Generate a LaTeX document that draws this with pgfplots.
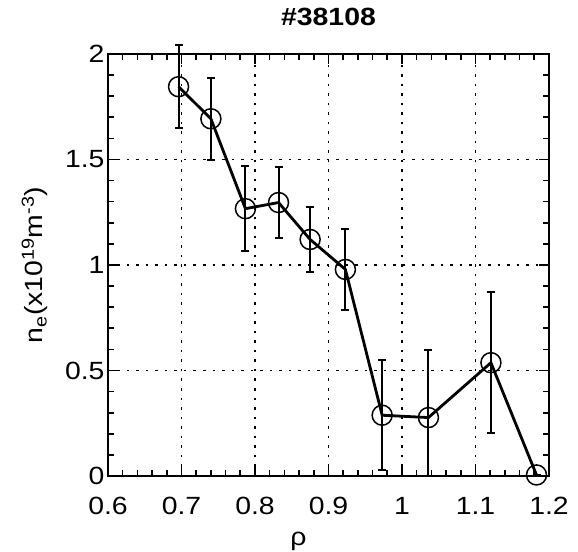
\documentclass[border=0pt]{standalone}
\usepackage{pgfplots}
\pgfplotsset{compat=1.18}
\usepackage{pgfplotstable}
\usepackage{fontspec}
\setmainfont{Liberation Sans}[FakeStretch=1.14]
\pgfplotstableread{
x y ep em
0.696 1.845 0.196 0.196
0.740 1.693 0.195 0.195
0.787 1.267 0.200 0.200
0.832 1.296 0.170 0.170
0.875 1.121 0.155 0.155
0.923 0.979 0.190 0.190
0.973 0.288 0.260 0.260
1.036 0.277 0.320 0.277
1.121 0.537 0.335 0.335
1.183 0.005 0.000 0.000
}\data
\begin{document}
\begin{tikzpicture}
\useasboundingbox (-108bp,-76bp) rectangle (470bp,476bp);
\begin{axis}[
  at={(0,0)}, anchor=south west,
  scale only axis, width=441bp, height=422bp,
  xmin=0.6, xmax=1.2, ymin=0, ymax=2,
  xtick={0.6,0.7,0.8,0.9,1,1.1,1.2},
  ytick={0,0.5,1,1.5,2},
  minor x tick num=4, minor y tick num=4,
  tick align=inside, tick pos=both,
  major tick length=10bp, minor tick length=6bp,
  every tick/.style={black, line width=1.6bp},
  axis line style={black, line width=2.2bp},
  grid=major,
  major grid style={black, line width=1.6bp, dash pattern=on 2.5bp off 7bp},
  /pgf/number format/assume math mode=true,
  ticklabel style={font=\fontsize{25}{28}\selectfont},
  xticklabel style={yshift=-18bp},
  label style={font=\fontsize{25}{28}\selectfont},
  xlabel={ρ},
  xlabel style={at={(axis description cs:0.5,0)}, anchor=center, yshift=-65bp, xshift=-30bp},
  ylabel={n\textsubscript{e}(x10\textsuperscript{19}m\textsuperscript{-3})},
  ylabel style={at={(axis description cs:-0.166,0.5)}, anchor=center},
  title={\textbf{\#38108}},
  title style={font=\fontsize{25}{28}\selectfont, at={(axis description cs:0.5,1)}, anchor=center, yshift=31bp},
  clip=false,
]
\addplot [black, line width=2.8bp, mark=o, mark size=10bp,
  mark options={line width=1.5bp, solid},
  error bars/.cd, y dir=both, y explicit,
  error bar style={line width=2bp},
  error mark options={rotate=90, mark size=4bp, line width=2bp}]
  table [x=x, y=y, y error plus=ep, y error minus=em] {\data};
\end{axis}
\end{tikzpicture}
\end{document}
